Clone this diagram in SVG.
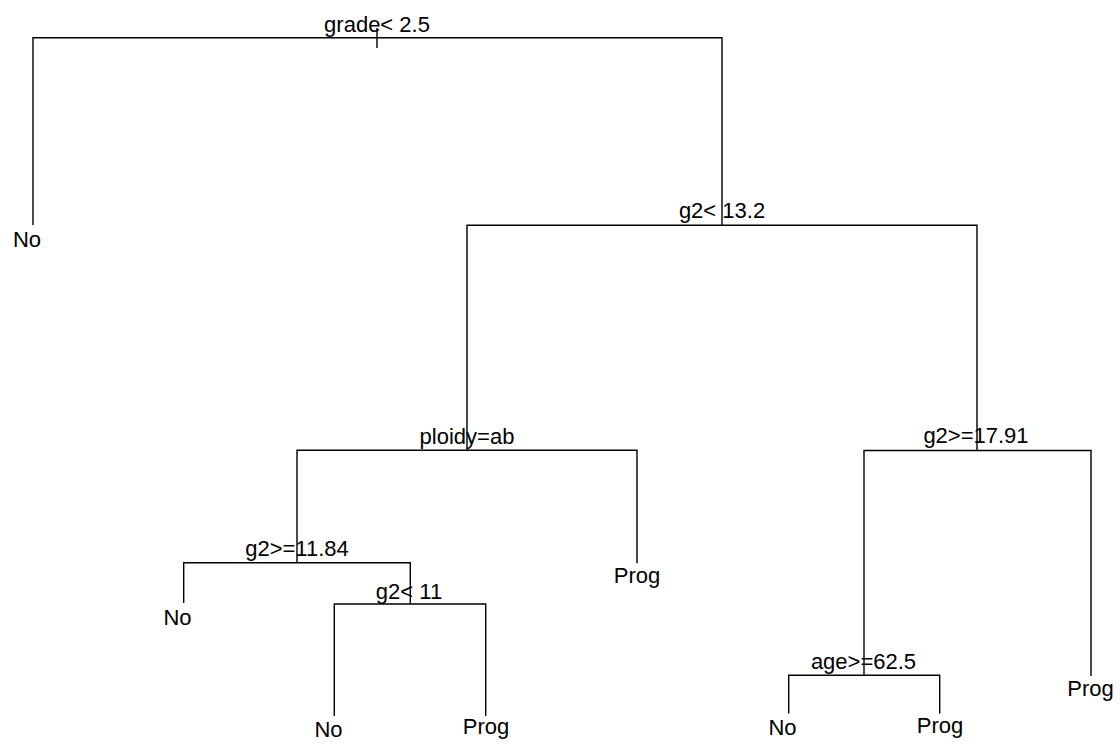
<svg xmlns="http://www.w3.org/2000/svg" width="1120" height="746" viewBox="0 0 1120 746">
<style>
.c{fill:none;stroke:#000;stroke-width:1.4;stroke-linecap:butt;stroke-linejoin:miter}
text{font-family:"Liberation Sans",Arial,sans-serif;font-size:22px;fill:#000;text-anchor:middle}
</style>
<rect width="1120" height="746" fill="#fff"/>
<g id="connectors">
<path class="c" d="M377 28V48"/>
<path class="c" d="M33 225V37.7H722V225.3"/>
<path class="c" d="M467 450.3V225.3H977V450.5"/>
<path class="c" d="M297 562.7V450.3H637V563.3"/>
<path class="c" d="M864 675.3V450.5H1091V676"/>
<path class="c" d="M183.7 603V562.7H410.3V604"/>
<path class="c" d="M334.3 716V604H485.7V716"/>
<path class="c" d="M788.7 713.5V675.3H939.7V713.5"/>
</g>
<g id="n-grade"><text x="377" y="32">grade&lt; 2.5</text></g>
<g id="n-g2-13"><text x="722" y="217.5">g2&lt; 13.2</text></g>
<g id="n-ploidy"><text x="467" y="444.3">ploidy=ab</text></g>
<g id="n-g2-1791"><text x="976" y="443">g2&gt;=17.91</text></g>
<g id="n-g2-1184"><text x="297" y="555.5">g2&gt;=11.84</text></g>
<g id="n-g2-11"><text x="409" y="599">g2&lt; 11</text></g>
<g id="n-age"><text x="863.5" y="668.5">age&gt;=62.5</text></g>
<g id="leaf-no-1"><text x="27" y="247">No</text></g>
<g id="leaf-no-2"><text x="177.5" y="624.5">No</text></g>
<g id="leaf-no-3"><text x="328.5" y="737">No</text></g>
<g id="leaf-prog-1"><text x="486" y="733.5">Prog</text></g>
<g id="leaf-prog-2"><text x="637" y="583">Prog</text></g>
<g id="leaf-no-4"><text x="782.5" y="735">No</text></g>
<g id="leaf-prog-3"><text x="940" y="733">Prog</text></g>
<g id="leaf-prog-4"><text x="1090.5" y="695.5">Prog</text></g>
</svg>
